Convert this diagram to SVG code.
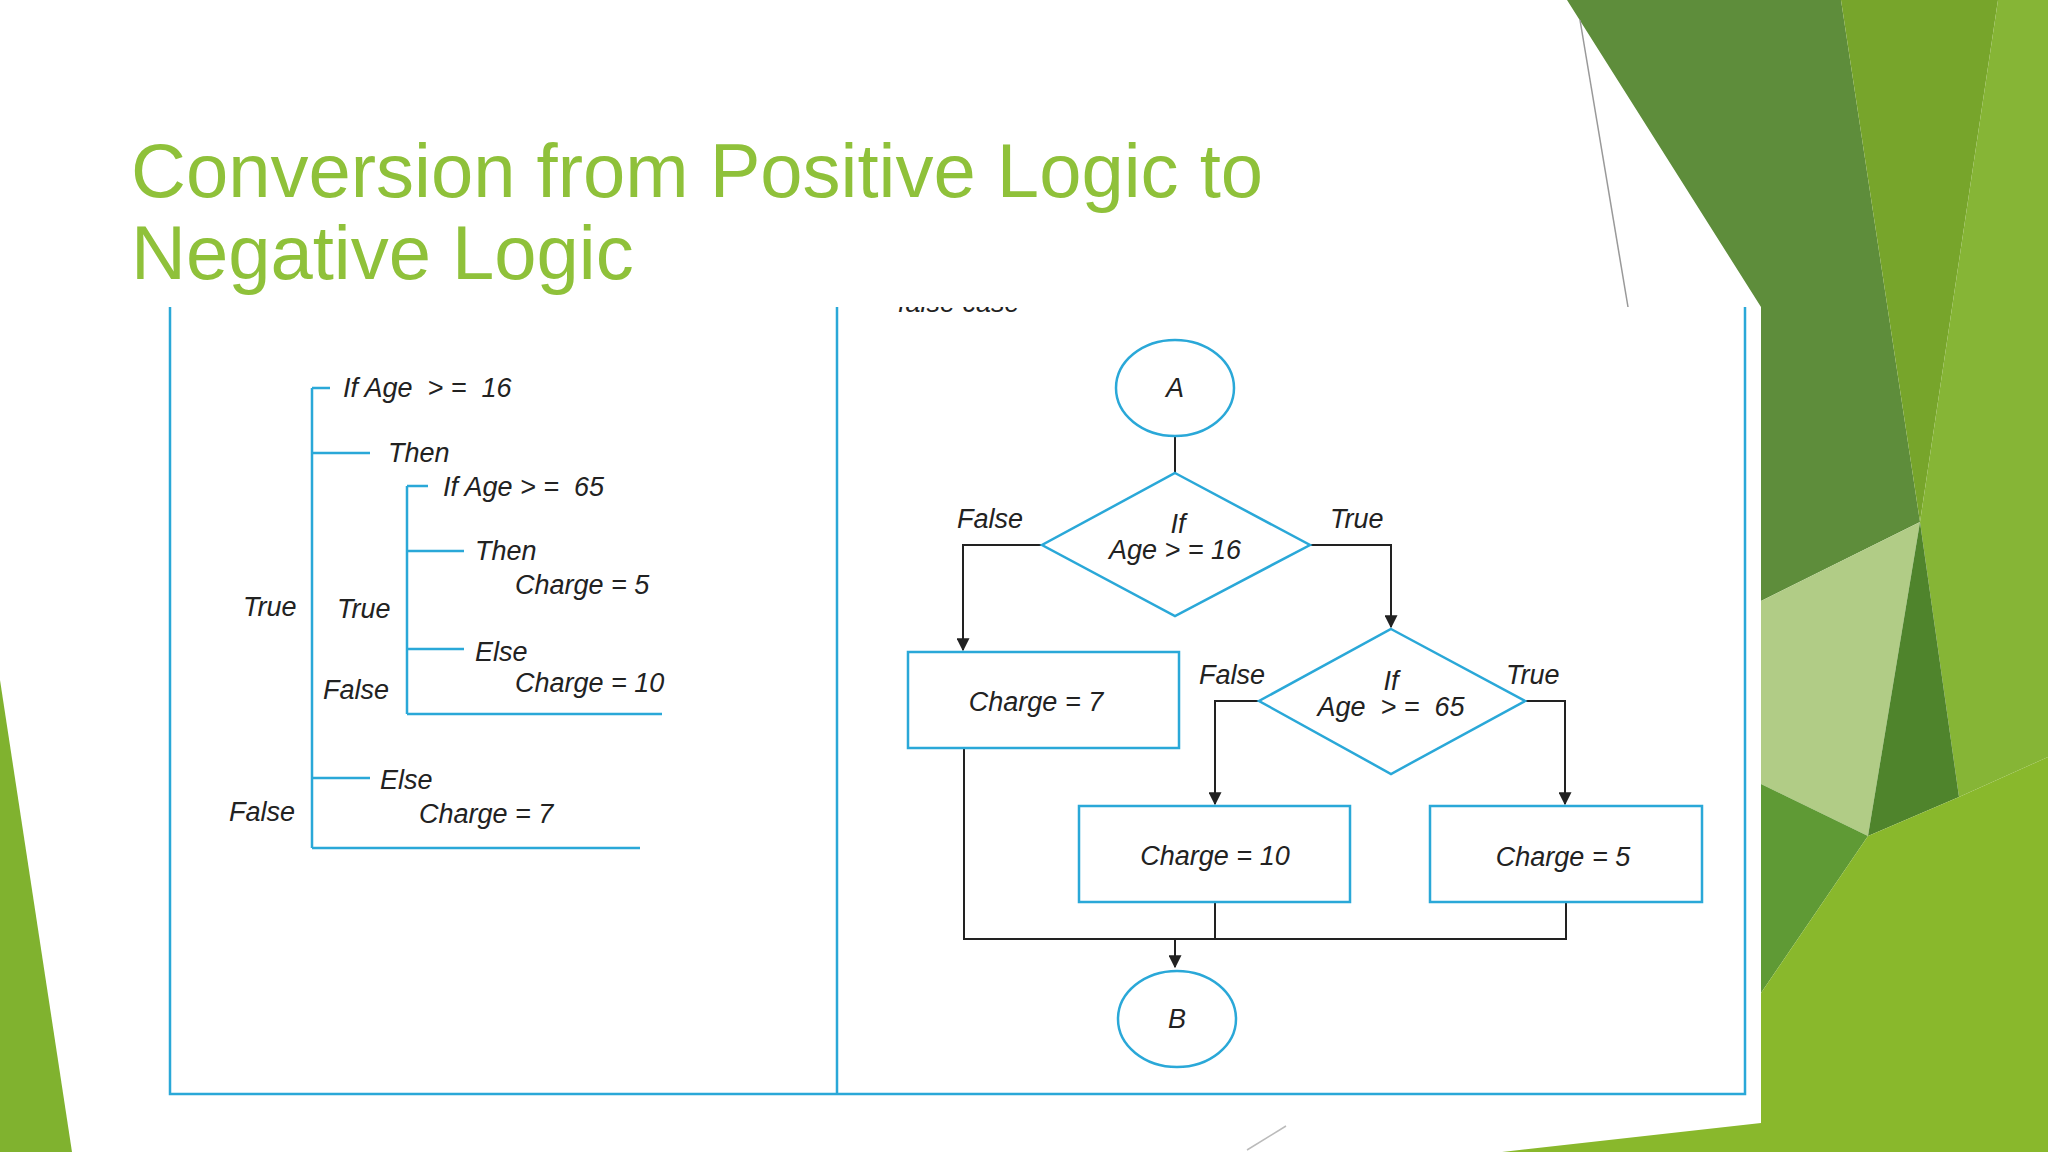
<svg xmlns="http://www.w3.org/2000/svg" width="2048" height="1152" viewBox="0 0 2048 1152">
<defs>
<marker id="ar" viewBox="0 0 10 10" refX="9" refY="5" markerWidth="13" markerHeight="13" orient="auto" markerUnits="userSpaceOnUse"><path d="M0,0L10,5L0,10z" fill="#222"/></marker>
<clipPath id="pc"><rect x="0" y="307" width="2048" height="845"/></clipPath>
<style>
.t{font-family:"Liberation Sans",Arial,sans-serif;font-style:italic;font-size:27px;fill:#222;white-space:pre}
.c{text-anchor:middle}
.b{fill:#fff;stroke:#2aa8d8;stroke-width:2.5}
.bl{fill:none;stroke:#2aa8d8;stroke-width:2.5}
.k{fill:none;stroke:#222;stroke-width:2}
.ka{fill:none;stroke:#222;stroke-width:2;marker-end:url(#ar)}
</style>
</defs>
<rect width="2048" height="1152" fill="#fff"/>
<g id="bg">
<polygon points="1567,0 1841,0 1920,522 1761,601 1761,307" fill="#5e8d3b"/>
<polygon points="1841,0 1998,0 1920,522" fill="#77a52b"/>
<polygon points="1998,0 2048,0 2048,757 1959,797 1920,522" fill="#86b536"/>
<polygon points="1761,601 1920,522 1868,836 1761,784" fill="#b1cc86"/>
<polygon points="1761,784 1868,836 1761,993" fill="#5f9a35"/>
<polygon points="1920,522 1959,797 1868,836" fill="#4f842c"/>
<polygon points="2048,757 2048,1152 1502,1152 1761,1123 1761,993 1868,836 1959,797" fill="#89b82c"/>
<line x1="1580" y1="20" x2="1628" y2="307" stroke="#999" stroke-width="1.5"/>
<line x1="1247" y1="1150" x2="1286" y2="1126" stroke="#bbb" stroke-width="1.5"/>
</g>
<g id="title" font-family="Liberation Sans,Arial,sans-serif" font-size="76" fill="#8fc13a">
<text x="131" y="197">Conversion from Positive Logic to</text>
<text x="131" y="279">Negative Logic</text>
</g>
<g id="panel">
<rect x="80" y="307" width="1681" height="816" fill="#fff"/>
<path d="M170,307V1094H1745V307M837,307V1094" class="bl"/>
<text class="t" x="898" y="312" clip-path="url(#pc)">false case</text>
</g>
<polygon points="0,680 72,1152 0,1152" fill="#80b22f"/>
<g id="left">
<path d="M312,388V848M312,388H330M312,453H370M407,486V714M407,486H428M407,551H464M407,649H464M407,714H662M312,778H370M312,848H640" class="bl"/>
<text class="t" x="343" y="397">If Age  &gt; =  16</text>
<text class="t" x="388" y="462">Then</text>
<text class="t" x="443" y="496">If Age &gt; =  65</text>
<text class="t" x="475" y="560">Then</text>
<text class="t" x="515" y="594">Charge = 5</text>
<text class="t" x="475" y="661">Else</text>
<text class="t" x="515" y="692">Charge = 10</text>
<text class="t" x="243" y="616">True</text>
<text class="t" x="337" y="618">True</text>
<text class="t" x="323" y="699">False</text>
<text class="t" x="380" y="789">Else</text>
<text class="t" x="419" y="823">Charge = 7</text>
<text class="t" x="229" y="821">False</text>
</g>
<g id="connectors">
<path d="M1175,436V473" class="k"/>
<path d="M1042,545H963V650" class="ka"/>
<path d="M1310,545H1391V627" class="ka"/>
<path d="M1259,701H1215V804" class="ka"/>
<path d="M1525,701H1565V804" class="ka"/>
<path d="M964,748V939H1566V902M1215,902V939" class="k"/>
<path d="M1175,939V967" class="ka"/>
</g>
<g id="nodeA"><ellipse cx="1175" cy="388" rx="59" ry="48" class="b"/><text class="t c" x="1175" y="397">A</text></g>
<g id="d1"><polygon points="1175,473 1310,545 1175,616 1042,545" class="b"/><text class="t c" x="1178" y="533">If</text><text class="t c" x="1175" y="559">Age &gt; = 16</text></g>
<g id="lbl1"><text class="t" x="957" y="528">False</text><text class="t" x="1330" y="528">True</text></g>
<g id="c7"><rect x="908" y="652" width="271" height="96" class="b"/><text class="t c" x="1036" y="711">Charge = 7</text></g>
<g id="d2"><polygon points="1391,629 1525,701 1391,774 1259,701" class="b"/><text class="t c" x="1391" y="690">If</text><text class="t c" x="1391" y="716">Age  &gt; =  65</text></g>
<g id="lbl2"><text class="t" x="1199" y="684">False</text><text class="t" x="1506" y="684">True</text></g>
<g id="c10"><rect x="1079" y="806" width="271" height="96" class="b"/><text class="t c" x="1215" y="865">Charge = 10</text></g>
<g id="c5"><rect x="1430" y="806" width="272" height="96" class="b"/><text class="t c" x="1563" y="866">Charge = 5</text></g>
<g id="nodeB"><ellipse cx="1177" cy="1019" rx="59" ry="48" class="b"/><text class="t c" x="1177" y="1028">B</text></g>
</svg>
